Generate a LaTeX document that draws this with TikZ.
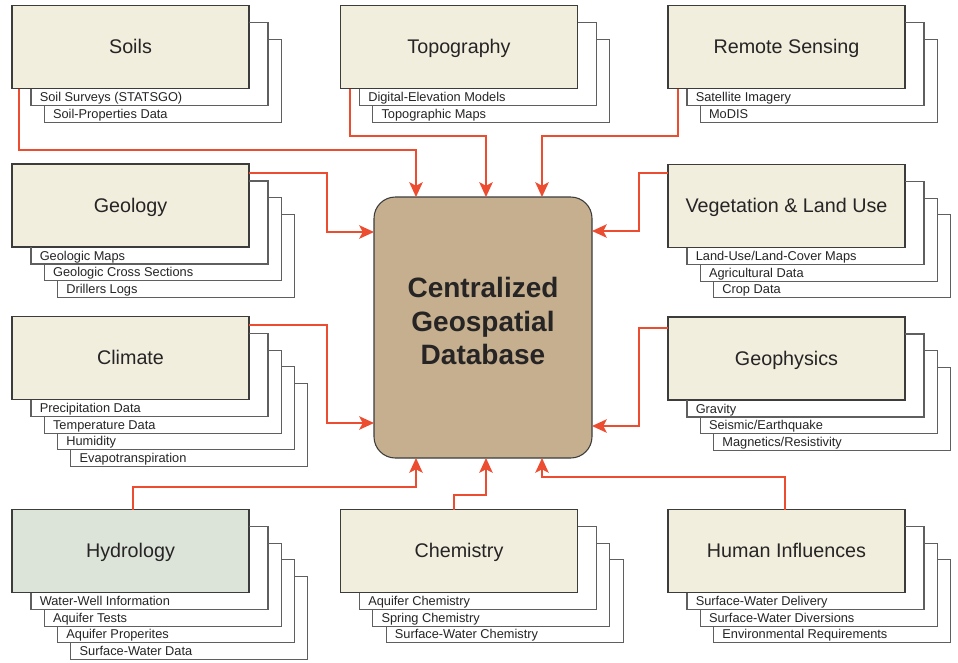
\documentclass[tikz,border=0pt]{standalone}
\usepackage{fontspec}
\setmainfont{Liberation Sans}
\usetikzlibrary{calc,arrows.meta}
\definecolor{cream}{RGB}{241,238,222}
\definecolor{hydrofill}{RGB}{220,228,218}
\definecolor{dbtan}{RGB}{197,175,142}
\definecolor{arrowred}{RGB}{236,76,48}
\definecolor{boxline}{RGB}{60,60,60}
\definecolor{sublinec}{RGB}{95,95,95}
\definecolor{shadowgray}{RGB}{232,232,232}
\definecolor{txt}{RGB}{38,36,36}
\tikzset{
 topic/.style={draw=boxline, line width=0.8pt, fill=cream, minimum width=177.75pt, minimum height=62.25pt,
   inner sep=0pt, outer sep=0pt, text height=10.4pt, text depth=0pt,
   font=\fontsize{14.8}{17}\selectfont, text=txt},
 subframe/.style={draw=sublinec, line width=0.8pt},
 subtext/.style={anchor=base west, inner sep=0pt, font=\fontsize{9.6}{11}\selectfont, text=txt},
 conn/.style={draw=arrowred, line width=1.5pt, -{Stealth[length=11pt,width=10pt,inset=2.5pt]}},
 dbbox/.style={draw=boxline, line width=0.8pt, fill=dbtan, rounded corners=16pt, minimum width=163.5pt,
   minimum height=195.75pt, inner sep=0pt, outer sep=0pt},
 dbtext/.style={align=center, font=\bfseries\fontsize{21}{25}\selectfont, inner sep=0pt},
}
\newcommand\subitems[2]{%
 \foreach \t [count=\i] in {#2} {%
  \pgfmathsetmacro\dx{19+13.3*(\i-1)}%
  \pgfmathsetmacro\dy{17+16.7*(\i-1)}%
  \pgfmathsetmacro\px{ifthenelse(\i==1,0,19+13.3*(\i-2))}%
  \pgfmathsetmacro\py{ifthenelse(\i==1,0,17+16.7*(\i-2))}%
  \draw[subframe] ($(#1.south west)+(\dx,\py)$) -- ($(#1.south west)+(\dx,\dy)$)
     -- ($(#1.south east)+(\dx,\dy)$) -- ($(#1.north east)+(\dx,\dy)$) -- ($(#1.north east)+(\px,\dy)$);
  \node[subtext] at ($(#1.south west)+(\dx+8.5,\dy-4)$) {\t};
 }}
\begin{document}
\begin{tikzpicture}[x=0.75pt,y=-0.75pt]
\useasboundingbox[fill=white] (0,0) rectangle (958,662);

% central database
\node[dbbox] (db) at (483,327.5) {};
\node[dbtext, text=txt] (dbt) at (483,321) {Centralized\\Geospatial\\Database};

% topic boxes
\node[topic] (soils) at (130.5,47) {Soils};
\node[topic] (geology) at (130.5,205.5) {Geology};
\node[topic] (climate) at (130.5,358) {Climate};
\node[topic, fill=hydrofill] (hydro) at (130.5,551) {Hydrology};
\node[topic] (topo) at (459,47) {Topography};
\node[topic] (chem) at (459,551) {Chemistry};
\node[topic] (remote) at (786.5,47) {Remote Sensing};
\node[topic] (veg) at (786.5,206) {Vegetation \& Land Use};
\node[topic] (geoph) at (786.5,358.5) {Geophysics};
\node[topic] (human) at (786.5,551) {Human Influences};

% sub items
\subitems{soils}{{Soil Surveys (STATSGO)},{Soil-Properties Data}}
\subitems{geology}{{Geologic Maps},{Geologic Cross Sections},{Drillers Logs}}
\subitems{climate}{{Precipitation Data},{Temperature Data},{Humidity},{Evapotranspiration}}
\subitems{hydro}{{Water-Well Information},{Aquifer Tests},{Aquifer Properites},{Surface-Water Data}}
\subitems{topo}{{Digital-Elevation Models},{Topographic Maps}}
\subitems{chem}{{Aquifer Chemistry},{Spring Chemistry},{Surface-Water Chemistry}}
\subitems{remote}{{Satellite Imagery},{MoDIS}}
\subitems{veg}{{Land-Use/Land-Cover Maps},{Agricultural Data},{Crop Data}}
\subitems{geoph}{{Gravity},{Seismic/Earthquake},{Magnetics/Resistivity}}
\subitems{human}{{Surface-Water Delivery},{Surface-Water Diversions},{Environmental Requirements}}

% connectors
\draw[conn] ($(soils.south west)+(6.5,0)$) -- ++(0,61.5) -| ($(db.north west)+(42,0)$);
\draw[conn] ($(topo.south west)+(9.5,0)$) -- ++(0,47) -| ($(db.north west)+(112,0)$);
\draw[conn] ($(remote.south west)+(10,0)$) -- ++(0,47) -| ($(db.north west)+(168,0)$);
\draw[conn] ($(geology.north east)+(0,9)$) -| ($(db.north west)+(-47,35)$) -- ($(db.north west)+(0,35)$);
\draw[conn] ($(climate.north east)+(0,8)$) -| ($(db.south west)+(-47,-35)$) -- ($(db.south west)+(0,-35)$);
\draw[conn] ($(veg.north west)+(0,8)$) -| ($(db.north east)+(47,34)$) -- ($(db.north east)+(0,34)$);
\draw[conn] ($(geoph.north west)+(0,11)$) -| ($(db.south east)+(47,-32)$) -- ($(db.south east)+(0,-32)$);
\draw[conn] ($(hydro.north west)+(121,0)$) -- ++(0,-23) -| ($(db.south west)+(42,0)$);
\draw[conn] ($(chem.north west)+(113,0)$) -- ++(0,-15) -| ($(db.south west)+(112,0)$);
\draw[conn] ($(human.north west)+(117,0)$) -- ++(0,-33) -| ($(db.south west)+(168,0)$);
\end{tikzpicture}
\end{document}
